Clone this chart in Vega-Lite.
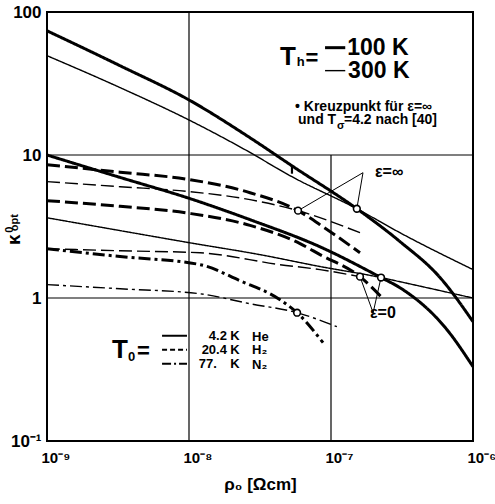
{
  "$schema": "https://vega.github.io/schema/vega-lite/v6.json",
  "width": 426,
  "height": 429,
  "autosize": {"type": "none"},
  "padding": {"left": 47, "top": 12, "right": 22, "bottom": 63},
  "background": "white",
  "config": {
    "font": "Liberation Sans",
    "view": {"stroke": "black", "strokeWidth": 2},
    "axis": {
      "domain": false, "ticks": false, "grid": false,
      "labelFont": "Liberation Sans", "labelFontWeight": "bold", "labelColor": "black", "labelFontSize": 17,
      "labelFlush": false,
      "titleFont": "Liberation Sans", "titleFontWeight": "bold", "titleColor": "black", "titleFontSize": 17
    },
    "text": {"font": "Liberation Sans", "fontWeight": "bold", "fill": "black", "baseline": "middle"}
  },
  "datasets": {
    "grid": [
      {"rho": 1e-8, "rho2": 1e-8, "kappa": 0.1, "kappa2": 100},
      {"rho": 1e-7, "rho2": 1e-7, "kappa": 0.1, "kappa2": 10},
      {"rho": 1e-9, "rho2": 1e-6, "kappa": 10, "kappa2": 10},
      {"rho": 1e-9, "rho2": 1e-6, "kappa": 1, "kappa2": 1}
    ],
    "curves": [
      {"curve": "He-100-inf", "gas": "He", "Th": 100, "rho": 1e-9, "kappa": 73.9},
      {"curve": "He-100-inf", "gas": "He", "Th": 100, "rho": 3.27e-9, "kappa": 42.1},
      {"curve": "He-100-inf", "gas": "He", "Th": 100, "rho": 1.02e-8, "kappa": 24.0},
      {"curve": "He-100-inf", "gas": "He", "Th": 100, "rho": 2.69e-8, "kappa": 13.2},
      {"curve": "He-100-inf", "gas": "He", "Th": 100, "rho": 5.31e-8, "kappa": 8.4},
      {"curve": "He-100-inf", "gas": "He", "Th": 100, "rho": 1.52e-7, "kappa": 4.21},
      {"curve": "He-100-inf", "gas": "He", "Th": 100, "rho": 3.06e-7, "kappa": 2.48},
      {"curve": "He-100-inf", "gas": "He", "Th": 100, "rho": 5.86e-7, "kappa": 1.39},
      {"curve": "He-100-inf", "gas": "He", "Th": 100, "rho": 1e-6, "kappa": 0.683},

      {"curve": "He-300-inf", "gas": "He", "Th": 300, "rho": 1e-9, "kappa": 49.5},
      {"curve": "He-300-inf", "gas": "He", "Th": 300, "rho": 3.27e-9, "kappa": 29.6},
      {"curve": "He-300-inf", "gas": "He", "Th": 300, "rho": 1.02e-8, "kappa": 17.4},
      {"curve": "He-300-inf", "gas": "He", "Th": 300, "rho": 2.48e-8, "kappa": 10.9},
      {"curve": "He-300-inf", "gas": "He", "Th": 300, "rho": 5.31e-8, "kappa": 7.05},
      {"curve": "He-300-inf", "gas": "He", "Th": 300, "rho": 1.52e-7, "kappa": 4.21},
      {"curve": "He-300-inf", "gas": "He", "Th": 300, "rho": 3.06e-7, "kappa": 2.86},
      {"curve": "He-300-inf", "gas": "He", "Th": 300, "rho": 1e-6, "kappa": 1.58},

      {"curve": "He-100-0", "gas": "He", "Th": 100, "rho": 1e-9, "kappa": 10.0},
      {"curve": "He-100-0", "gas": "He", "Th": 100, "rho": 3.27e-9, "kappa": 6.97},
      {"curve": "He-100-0", "gas": "He", "Th": 100, "rho": 1.02e-8, "kappa": 4.95},
      {"curve": "He-100-0", "gas": "He", "Th": 100, "rho": 2.69e-8, "kappa": 3.53},
      {"curve": "He-100-0", "gas": "He", "Th": 100, "rho": 8.37e-8, "kappa": 2.28},
      {"curve": "He-100-0", "gas": "He", "Th": 100, "rho": 2.25e-7, "kappa": 1.39},
      {"curve": "He-100-0", "gas": "He", "Th": 100, "rho": 3.06e-7, "kappa": 1.18},
      {"curve": "He-100-0", "gas": "He", "Th": 100, "rho": 6.56e-7, "kappa": 0.6},
      {"curve": "He-100-0", "gas": "He", "Th": 100, "rho": 1e-6, "kappa": 0.331},

      {"curve": "He-300-0", "gas": "He", "Th": 300, "rho": 1e-9, "kappa": 3.64},
      {"curve": "He-300-0", "gas": "He", "Th": 300, "rho": 3.27e-9, "kappa": 2.96},
      {"curve": "He-300-0", "gas": "He", "Th": 300, "rho": 1.02e-8, "kappa": 2.43},
      {"curve": "He-300-0", "gas": "He", "Th": 300, "rho": 3.16e-8, "kappa": 2.01},
      {"curve": "He-300-0", "gas": "He", "Th": 300, "rho": 8.37e-8, "kappa": 1.66},
      {"curve": "He-300-0", "gas": "He", "Th": 300, "rho": 2.25e-7, "kappa": 1.39},
      {"curve": "He-300-0", "gas": "He", "Th": 300, "rho": 3.06e-7, "kappa": 1.3},
      {"curve": "He-300-0", "gas": "He", "Th": 300, "rho": 1e-6, "kappa": 1.0},

      {"curve": "H2-100-inf", "gas": "H2", "Th": 100, "rho": 1e-9, "kappa": 8.55},
      {"curve": "H2-100-inf", "gas": "H2", "Th": 100, "rho": 3.27e-9, "kappa": 7.58},
      {"curve": "H2-100-inf", "gas": "H2", "Th": 100, "rho": 1.02e-8, "kappa": 6.72},
      {"curve": "H2-100-inf", "gas": "H2", "Th": 100, "rho": 2.69e-8, "kappa": 5.45},
      {"curve": "H2-100-inf", "gas": "H2", "Th": 100, "rho": 5.86e-8, "kappa": 4.08},
      {"curve": "H2-100-inf", "gas": "H2", "Th": 100, "rho": 8.79e-8, "kappa": 3.15},
      {"curve": "H2-100-inf", "gas": "H2", "Th": 100, "rho": 1.6e-7, "kappa": 2.07},

      {"curve": "H2-300-inf", "gas": "H2", "Th": 300, "rho": 1e-9, "kappa": 6.51},
      {"curve": "H2-300-inf", "gas": "H2", "Th": 300, "rho": 3.27e-9, "kappa": 6.0},
      {"curve": "H2-300-inf", "gas": "H2", "Th": 300, "rho": 1.02e-8, "kappa": 5.54},
      {"curve": "H2-300-inf", "gas": "H2", "Th": 300, "rho": 2.69e-8, "kappa": 4.87},
      {"curve": "H2-300-inf", "gas": "H2", "Th": 300, "rho": 5.86e-8, "kappa": 4.08},
      {"curve": "H2-300-inf", "gas": "H2", "Th": 300, "rho": 1.6e-7, "kappa": 2.86},

      {"curve": "H2-100-0", "gas": "H2", "Th": 100, "rho": 1e-9, "kappa": 4.79},
      {"curve": "H2-100-0", "gas": "H2", "Th": 100, "rho": 3.27e-9, "kappa": 4.38},
      {"curve": "H2-100-0", "gas": "H2", "Th": 100, "rho": 1.02e-8, "kappa": 3.9},
      {"curve": "H2-100-0", "gas": "H2", "Th": 100, "rho": 2.69e-8, "kappa": 3.22},
      {"curve": "H2-100-0", "gas": "H2", "Th": 100, "rho": 6.05e-8, "kappa": 2.4},
      {"curve": "H2-100-0", "gas": "H2", "Th": 100, "rho": 8.37e-8, "kappa": 2.01},
      {"curve": "H2-100-0", "gas": "H2", "Th": 100, "rho": 1.6e-7, "kappa": 1.41},
      {"curve": "H2-100-0", "gas": "H2", "Th": 100, "rho": 2.36e-7, "kappa": 0.973},

      {"curve": "H2-300-0", "gas": "H2", "Th": 300, "rho": 1e-9, "kappa": 2.21},
      {"curve": "H2-300-0", "gas": "H2", "Th": 300, "rho": 3.27e-9, "kappa": 2.14},
      {"curve": "H2-300-0", "gas": "H2", "Th": 300, "rho": 1.2e-8, "kappa": 2.07},
      {"curve": "H2-300-0", "gas": "H2", "Th": 300, "rho": 4.38e-8, "kappa": 1.71},
      {"curve": "H2-300-0", "gas": "H2", "Th": 300, "rho": 8.37e-8, "kappa": 1.58},
      {"curve": "H2-300-0", "gas": "H2", "Th": 300, "rho": 1.6e-7, "kappa": 1.41},

      {"curve": "N2-100", "gas": "N2", "Th": 100, "rho": 1e-9, "kappa": 2.21},
      {"curve": "N2-100", "gas": "N2", "Th": 100, "rho": 3.27e-9, "kappa": 1.95},
      {"curve": "N2-100", "gas": "N2", "Th": 100, "rho": 1.2e-8, "kappa": 1.71},
      {"curve": "N2-100", "gas": "N2", "Th": 100, "rho": 2.29e-8, "kappa": 1.32},
      {"curve": "N2-100", "gas": "N2", "Th": 100, "rho": 4.38e-8, "kappa": 0.973},
      {"curve": "N2-100", "gas": "N2", "Th": 100, "rho": 5.77e-8, "kappa": 0.789},
      {"curve": "N2-100", "gas": "N2", "Th": 100, "rho": 8.79e-8, "kappa": 0.487},

      {"curve": "N2-300", "gas": "N2", "Th": 300, "rho": 1e-9, "kappa": 1.24},
      {"curve": "N2-300", "gas": "N2", "Th": 300, "rho": 3.27e-9, "kappa": 1.16},
      {"curve": "N2-300", "gas": "N2", "Th": 300, "rho": 1.2e-8, "kappa": 1.07},
      {"curve": "N2-300", "gas": "N2", "Th": 300, "rho": 2.69e-8, "kappa": 0.912},
      {"curve": "N2-300", "gas": "N2", "Th": 300, "rho": 5.77e-8, "kappa": 0.789},
      {"curve": "N2-300", "gas": "N2", "Th": 300, "rho": 1.1e-7, "kappa": 0.63}
    ],
    "crossings": [
      {"rho": 5.86e-8, "kappa": 4.08},
      {"rho": 1.52e-7, "kappa": 4.21},
      {"rho": 1.6e-7, "kappa": 1.41},
      {"rho": 2.25e-7, "kappa": 1.39},
      {"rho": 5.77e-8, "kappa": 0.789}
    ],
    "leaders": [
      {"rho": 1.68e-7, "kappa": 7.52, "rho2": 5.86e-8, "kappa2": 4.08},
      {"rho": 1.68e-7, "kappa": 7.52, "rho2": 1.52e-7, "kappa2": 4.21},
      {"rho": 1.98e-7, "kappa": 0.789, "rho2": 1.6e-7, "kappa2": 1.41},
      {"rho": 1.98e-7, "kappa": 0.789, "rho2": 2.25e-7, "kappa2": 1.39}
    ],
    "reference": [
      {"rho": 5.31e-8, "kappa": 8.5, "kappa2": 7.4}
    ],
    "thKey": [
      {"rho": 9.08e-8, "rho2": 1.26e-7, "kappa": 56.3, "Th": 100},
      {"rho": 9.08e-8, "rho2": 1.26e-7, "kappa": 38.9, "Th": 300}
    ],
    "gasKey": [
      {"rho": 6.46e-9, "rho2": 9.68e-9, "kappa": 0.545, "gas": "He"},
      {"rho": 6.46e-9, "rho2": 9.68e-9, "kappa": 0.435, "gas": "H2"},
      {"rho": 6.46e-9, "rho2": 9.68e-9, "kappa": 0.347, "gas": "N2"}
    ],
    "labels": [
      {"role": "symbol", "t": "T", "rho": 4.38e-8, "kappa": 48.7},
      {"role": "symbol", "t": "T", "rho": 2.87e-9, "kappa": 0.435},
      {"role": "equals", "t": "=", "rho": 6.6e-8, "kappa": 47.9},
      {"role": "equals", "t": "=", "rho": 4.3e-9, "kappa": 0.428},
      {"role": "subscript", "t": "h", "rho": 5.75e-8, "kappa": 44.9},
      {"role": "subscript", "t": "0", "rho": 3.72e-9, "kappa": 0.389},
      {"role": "temperature", "t": "100 K", "rho": 1.3e-7, "kappa": 56.3},
      {"role": "temperature", "t": "300 K", "rho": 1.32e-7, "kappa": 38.9},
      {"role": "note", "t": "• Kreuzpunkt für ε=∞", "rho": 5.58e-8, "kappa": 21.8},
      {"role": "note", "t": "und T", "rho": 5.86e-8, "kappa": 17.7},
      {"role": "note", "t": "=4.2 nach [40]", "rho": 1.235e-7, "kappa": 17.7},
      {"role": "noteSub", "t": "σ", "rho": 1.1e-7, "kappa": 16.0},
      {"role": "keyNumber", "t": "4.2", "rho": 1.85e-8, "kappa": 0.545},
      {"role": "keyNumber", "t": "20.4", "rho": 1.85e-8, "kappa": 0.435},
      {"role": "keyNumber", "t": "77.", "rho": 1.57e-8, "kappa": 0.347},
      {"role": "key", "t": "K", "rho": 1.95e-8, "kappa": 0.545},
      {"role": "key", "t": "K", "rho": 1.95e-8, "kappa": 0.435},
      {"role": "key", "t": "K", "rho": 1.95e-8, "kappa": 0.347},
      {"role": "key", "t": "He", "rho": 2.78e-8, "kappa": 0.536},
      {"role": "key", "t": "H₂", "rho": 2.78e-8, "kappa": 0.435},
      {"role": "key", "t": "N₂", "rho": 2.78e-8, "kappa": 0.342},
      {"role": "epsLeft", "t": "ε=∞", "rho": 2.04e-7, "kappa": 7.64},
      {"role": "epsCenter", "t": "ε=0", "rho": 2.32e-7, "kappa": 0.78},
      {"role": "yTitle", "t": "κ", "rho": 5.86e-10, "kappa": 2.56},
      {"role": "yTitleSmall", "t": "0", "rho": 5.53e-10, "kappa": 3.0},
      {"role": "yTitleSmall", "t": "opt", "rho": 6.0e-10, "kappa": 3.36}
    ]
  },
  "resolve": {"scale": {"strokeDash": "independent"}},
  "layer": [
    {
      "data": {"name": "grid"},
      "mark": {"type": "rule", "stroke": "black", "strokeWidth": 1.2},
      "encoding": {
        "x": {
          "field": "rho", "type": "quantitative",
          "scale": {"type": "log", "domain": [1e-9, 1e-6], "nice": false},
          "axis": {
            "values": [1e-9, 1e-8, 1e-7, 1e-6],
            "labelExpr": "datum.value < 5e-9 ? '10⁻⁹' : datum.value < 5e-8 ? '10⁻⁸' : datum.value < 5e-7 ? '10⁻⁷' : '10⁻⁶'",
            "labelAlign": "left", "labelOffset": -6, "labelBaseline": "top", "labelPadding": 9, "labelFontSize": 15,
            "title": "ρ₀ [Ωcm]", "titlePadding": 11
          }
        },
        "y": {
          "field": "kappa", "type": "quantitative",
          "scale": {"type": "log", "domain": [0.1, 100], "nice": false},
          "axis": {
            "values": [0.1, 1, 10, 100],
            "labelExpr": "datum.value < 0.5 ? '10⁻¹' : datum.value < 5 ? '1' : datum.value < 50 ? '10' : '100'",
            "labelPadding": 6, "labelBaseline": "middle",
            "title": null
          }
        },
        "x2": {"field": "rho2"},
        "y2": {"field": "kappa2"}
      }
    },
    {
      "data": {"name": "curves"},
      "mark": {"type": "line", "stroke": "black", "interpolate": "monotone", "strokeCap": "butt"},
      "encoding": {
        "x": {"field": "rho", "type": "quantitative", "scale": {"type": "log"}},
        "y": {"field": "kappa", "type": "quantitative", "scale": {"type": "log"}},
        "detail": {"field": "curve", "type": "nominal"},
        "strokeDash": {"field": "gas", "type": "nominal", "scale": {"domain": ["He", "H2", "N2"], "range": [[1, 0], [13, 5], [12, 4, 3, 4]]}, "legend": null},
        "strokeWidth": {"field": "Th", "type": "quantitative", "scale": {"domain": [100, 300], "range": [3, 1.4]}, "legend": null}
      }
    },
    {
      "data": {"name": "leaders"},
      "mark": {"type": "rule", "stroke": "black", "strokeWidth": 1},
      "encoding": {
        "x": {"field": "rho", "type": "quantitative", "scale": {"type": "log"}},
        "y": {"field": "kappa", "type": "quantitative", "scale": {"type": "log"}},
        "x2": {"field": "rho2"},
        "y2": {"field": "kappa2"}
      }
    },
    {
      "data": {"name": "reference"},
      "mark": {"type": "rule", "stroke": "black", "strokeWidth": 2.2},
      "encoding": {
        "x": {"field": "rho", "type": "quantitative", "scale": {"type": "log"}},
        "y": {"field": "kappa", "type": "quantitative", "scale": {"type": "log"}},
        "y2": {"field": "kappa2"}
      }
    },
    {
      "data": {"name": "crossings"},
      "mark": {"type": "point", "shape": "circle", "filled": true, "fill": "white", "stroke": "black", "strokeWidth": 1.6, "size": 45, "opacity": 1},
      "encoding": {
        "x": {"field": "rho", "type": "quantitative", "scale": {"type": "log"}},
        "y": {"field": "kappa", "type": "quantitative", "scale": {"type": "log"}}
      }
    },
    {
      "data": {"name": "thKey"},
      "mark": {"type": "rule", "stroke": "black", "strokeCap": "butt"},
      "encoding": {
        "x": {"field": "rho", "type": "quantitative", "scale": {"type": "log"}},
        "y": {"field": "kappa", "type": "quantitative", "scale": {"type": "log"}},
        "x2": {"field": "rho2"},
        "strokeWidth": {"field": "Th", "type": "quantitative", "legend": null}
      }
    },
    {
      "data": {"name": "gasKey"},
      "mark": {"type": "rule", "stroke": "black", "strokeWidth": 2, "strokeCap": "butt"},
      "encoding": {
        "x": {"field": "rho", "type": "quantitative", "scale": {"type": "log"}},
        "y": {"field": "kappa", "type": "quantitative", "scale": {"type": "log"}},
        "x2": {"field": "rho2"},
        "strokeDash": {"field": "gas", "type": "nominal", "scale": {"domain": ["He", "H2", "N2"], "range": [[1, 0], [5, 3], [9, 3, 2, 3]]}, "legend": null}
      }
    },
    {
      "data": {"name": "labels"},
      "transform": [{"filter": "datum.role === 'symbol'"}],
      "mark": {"type": "text", "fontSize": 26, "align": "left"},
      "encoding": {
        "x": {"field": "rho", "type": "quantitative", "scale": {"type": "log"}},
        "y": {"field": "kappa", "type": "quantitative", "scale": {"type": "log"}},
        "text": {"field": "t"}
      }
    },
    {
      "data": {"name": "labels"},
      "transform": [{"filter": "datum.role === 'equals'"}],
      "mark": {"type": "text", "fontSize": 22, "align": "left"},
      "encoding": {
        "x": {"field": "rho", "type": "quantitative", "scale": {"type": "log"}},
        "y": {"field": "kappa", "type": "quantitative", "scale": {"type": "log"}},
        "text": {"field": "t"}
      }
    },
    {
      "data": {"name": "labels"},
      "transform": [{"filter": "datum.role === 'subscript'"}],
      "mark": {"type": "text", "fontSize": 13, "align": "left"},
      "encoding": {
        "x": {"field": "rho", "type": "quantitative", "scale": {"type": "log"}},
        "y": {"field": "kappa", "type": "quantitative", "scale": {"type": "log"}},
        "text": {"field": "t"}
      }
    },
    {
      "data": {"name": "labels"},
      "transform": [{"filter": "datum.role === 'temperature'"}],
      "mark": {"type": "text", "fontSize": 23, "align": "left"},
      "encoding": {
        "x": {"field": "rho", "type": "quantitative", "scale": {"type": "log"}},
        "y": {"field": "kappa", "type": "quantitative", "scale": {"type": "log"}},
        "text": {"field": "t"}
      }
    },
    {
      "data": {"name": "labels"},
      "transform": [{"filter": "datum.role === 'note'"}],
      "mark": {"type": "text", "fontSize": 14, "align": "left"},
      "encoding": {
        "x": {"field": "rho", "type": "quantitative", "scale": {"type": "log"}},
        "y": {"field": "kappa", "type": "quantitative", "scale": {"type": "log"}},
        "text": {"field": "t"}
      }
    },
    {
      "data": {"name": "labels"},
      "transform": [{"filter": "datum.role === 'key'"}],
      "mark": {"type": "text", "fontSize": 13, "align": "left"},
      "encoding": {
        "x": {"field": "rho", "type": "quantitative", "scale": {"type": "log"}},
        "y": {"field": "kappa", "type": "quantitative", "scale": {"type": "log"}},
        "text": {"field": "t"}
      }
    },
    {
      "data": {"name": "labels"},
      "transform": [{"filter": "datum.role === 'noteSub'"}],
      "mark": {"type": "text", "fontSize": 11, "align": "left"},
      "encoding": {
        "x": {"field": "rho", "type": "quantitative", "scale": {"type": "log"}},
        "y": {"field": "kappa", "type": "quantitative", "scale": {"type": "log"}},
        "text": {"field": "t"}
      }
    },
    {
      "data": {"name": "labels"},
      "transform": [{"filter": "datum.role === 'keyNumber'"}],
      "mark": {"type": "text", "fontSize": 13, "align": "right"},
      "encoding": {
        "x": {"field": "rho", "type": "quantitative", "scale": {"type": "log"}},
        "y": {"field": "kappa", "type": "quantitative", "scale": {"type": "log"}},
        "text": {"field": "t"}
      }
    },
    {
      "data": {"name": "labels"},
      "transform": [{"filter": "datum.role === 'epsLeft'"}],
      "mark": {"type": "text", "fontSize": 16, "align": "left"},
      "encoding": {
        "x": {"field": "rho", "type": "quantitative", "scale": {"type": "log"}},
        "y": {"field": "kappa", "type": "quantitative", "scale": {"type": "log"}},
        "text": {"field": "t"}
      }
    },
    {
      "data": {"name": "labels"},
      "transform": [{"filter": "datum.role === 'epsCenter'"}],
      "mark": {"type": "text", "fontSize": 16, "align": "center"},
      "encoding": {
        "x": {"field": "rho", "type": "quantitative", "scale": {"type": "log"}},
        "y": {"field": "kappa", "type": "quantitative", "scale": {"type": "log"}},
        "text": {"field": "t"}
      }
    },
    {
      "data": {"name": "labels"},
      "transform": [{"filter": "datum.role === 'yTitle'"}],
      "mark": {"type": "text", "fontSize": 19, "align": "center", "angle": 270},
      "encoding": {
        "x": {"field": "rho", "type": "quantitative", "scale": {"type": "log"}},
        "y": {"field": "kappa", "type": "quantitative", "scale": {"type": "log"}},
        "text": {"field": "t"}
      }
    },
    {
      "data": {"name": "labels"},
      "transform": [{"filter": "datum.role === 'yTitleSmall'"}],
      "mark": {"type": "text", "fontSize": 11, "align": "center", "angle": 270},
      "encoding": {
        "x": {"field": "rho", "type": "quantitative", "scale": {"type": "log"}},
        "y": {"field": "kappa", "type": "quantitative", "scale": {"type": "log"}},
        "text": {"field": "t"}
      }
    }
  ]
}
